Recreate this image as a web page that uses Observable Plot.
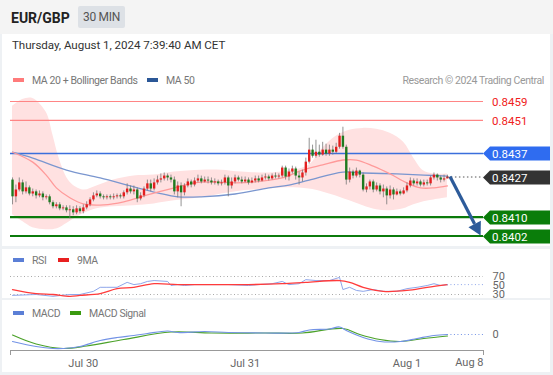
<!DOCTYPE html>
<html><head><meta charset="utf-8">
<script src="https://cdn.jsdelivr.net/npm/d3@7"></script>
<script src="https://cdn.jsdelivr.net/npm/@observablehq/plot@0.6"></script>
<style>
body{margin:0;background:#eef1f4;font-family:Roboto,"Liberation Sans",sans-serif;}
#page{position:relative;width:553px;height:375px;overflow:hidden;background:#eef1f4;}
.abs{position:absolute;white-space:nowrap;}
.panel{position:absolute;left:2px;width:548px;background:#fff;}
.leg{position:absolute;font-size:10.5px;letter-spacing:-0.4px;color:#777;line-height:12px;white-space:nowrap;}
.sw{display:inline-block;width:11px;height:4px;vertical-align:middle;margin-right:8px;position:relative;top:-1px;}
.plot{position:absolute;left:0;}
</style></head><body><div id="page">
<div class="abs" style="left:0;top:0;width:553px;height:34px;background:#f4f4f4;"></div>
<div class="abs" style="left:11px;top:10px;font-size:14px;font-weight:bold;color:#222;line-height:16px;">EUR/GBP</div>
<div class="abs" style="left:78px;top:6px;width:47px;height:22px;background:#dde1e6;border-radius:2px;font-size:12px;letter-spacing:-0.3px;color:#555;line-height:22px;text-align:center;">30 MIN</div>
<div class="panel" style="top:34px;height:212px;"></div>
<div class="panel" style="top:249px;height:49px;"></div>
<div class="panel" style="top:300px;height:72px;"></div>
<div class="abs" style="left:12px;top:38px;font-size:11.6px;letter-spacing:-0.05px;color:#333;line-height:14px;">Thursday, August 1, 2024 7:39:40 AM CET</div>
<div class="leg" style="left:13px;top:75px;"><span class="sw" style="background:#ff7b7b"></span>MA 20 + Bollinger Bands</div>
<div class="leg" style="left:147px;top:75px;"><span class="sw" style="background:#2b5797"></span>MA 50</div>
<div class="leg" style="right:9px;top:75px;color:#999;">Research © 2024 Trading Central</div>
<div class="leg" style="left:13px;top:255px;"><span class="sw" style="background:#5b7fd6"></span>RSI</div>
<div class="leg" style="left:58px;top:255px;"><span class="sw" style="background:#e82020"></span>9MA</div>
<div class="leg" style="left:13px;top:308px;"><span class="sw" style="background:#5b7fd6"></span>MACD</div>
<div class="leg" style="left:70px;top:308px;"><span class="sw" style="background:#3a9a10"></span>MACD Signal</div>
<div id="main" class="plot" style="top:34px"></div>
<div id="rsi" class="plot" style="top:249px"></div>
<div id="macd" class="plot" style="top:300px"></div>
</div>
<script>
// ---- price candles (30 min bars, index 0 = first visible bar) ----
const open0 = 0.84257;
const closes = [0.84186,0.84215,0.84245,0.84207,0.84224,0.84198,0.84207,0.84190,0.84198,0.84182,
 0.84186,0.84161,0.84144,0.84152,0.84135,0.84139,0.84127,0.84131,0.84118,0.84135,
 0.84123,0.84139,0.84152,0.84173,0.84190,0.84198,0.84186,0.84182,0.84186,0.84182,
 0.84186,0.84190,0.84186,0.84203,0.84219,0.84207,0.84215,0.84177,0.84190,0.84219,
 0.84241,0.84219,0.84245,0.84257,0.84262,0.84274,0.84266,0.84257,0.84207,0.84232,
 0.84203,0.84232,0.84249,0.84236,0.84253,0.84262,0.84249,0.84257,0.84253,0.84245,
 0.84249,0.84241,0.84245,0.84266,0.84232,0.84249,0.84266,0.84257,0.84249,0.84257,
 0.84245,0.84253,0.84262,0.84253,0.84266,0.84270,0.84262,0.84274,0.84270,0.84274,
 0.84308,0.84270,0.84291,0.84304,0.84274,0.84266,0.84287,0.84333,0.84384,0.84358,
 0.84375,0.84363,0.84384,0.84367,0.84384,0.84375,0.84396,0.84443,0.84396,0.84257,
 0.84291,0.84274,0.84295,0.84278,0.84215,0.84228,0.84249,0.84215,0.84232,0.84207,
 0.84219,0.84190,0.84215,0.84194,0.84207,0.84198,0.84211,0.84232,0.84253,0.84241,
 0.84249,0.84236,0.84245,0.84241,0.84266,0.84278,0.84266,0.84257,0.84262,0.84270];
const highs = [0.84266,0.84236,0.84266,0.84257,0.84249,0.84232,0.84219,0.84215,0.84211,0.84207,
 0.84194,0.84194,0.84169,0.84161,0.84161,0.84148,0.84148,0.84148,0.84144,0.84148,
 0.84144,0.84152,0.84165,0.84182,0.84203,0.84211,0.84207,0.84194,0.84194,0.84194,
 0.84198,0.84198,0.84198,0.84211,0.84241,0.84232,0.84232,0.84224,0.84203,0.84228,
 0.84257,0.84257,0.84262,0.84274,0.84283,0.84287,0.84283,0.84278,0.84270,0.84249,
 0.84245,0.84241,0.84262,0.84257,0.84266,0.84278,0.84274,0.84270,0.84270,0.84266,
 0.84262,0.84257,0.84257,0.84278,0.84274,0.84266,0.84278,0.84274,0.84270,0.84270,
 0.84266,0.84266,0.84274,0.84274,0.84278,0.84283,0.84278,0.84283,0.84287,0.84283,
 0.84316,0.84316,0.84304,0.84316,0.84312,0.84291,0.84299,0.84350,0.84434,0.84405,
 0.84426,0.84405,0.84417,0.84409,0.84405,0.84401,0.84413,0.84455,0.84481,0.84405,
 0.84308,0.84299,0.84308,0.84299,0.84287,0.84241,0.84257,0.84257,0.84245,0.84241,
 0.84236,0.84228,0.84232,0.84224,0.84219,0.84215,0.84224,0.84245,0.84266,0.84262,
 0.84262,0.84257,0.84257,0.84257,0.84274,0.84287,0.84283,0.84274,0.84278,0.84278];
const lows = [0.84152,0.84161,0.84207,0.84194,0.84198,0.84190,0.84186,0.84177,0.84182,0.84169,
 0.84173,0.84152,0.84135,0.84135,0.84127,0.84127,0.84118,0.84093,0.84106,0.84110,
 0.84114,0.84114,0.84131,0.84144,0.84165,0.84182,0.84177,0.84173,0.84173,0.84173,
 0.84173,0.84177,0.84177,0.84177,0.84194,0.84198,0.84194,0.84161,0.84169,0.84182,
 0.84211,0.84207,0.84211,0.84236,0.84245,0.84253,0.84253,0.84245,0.84194,0.84182,
 0.84144,0.84190,0.84224,0.84224,0.84228,0.84245,0.84241,0.84245,0.84241,0.84236,
 0.84236,0.84232,0.84232,0.84236,0.84186,0.84219,0.84241,0.84249,0.84241,0.84245,
 0.84236,0.84241,0.84245,0.84245,0.84249,0.84257,0.84253,0.84257,0.84262,0.84262,
 0.84266,0.84257,0.84253,0.84283,0.84257,0.84236,0.84249,0.84274,0.84325,0.84350,
 0.84350,0.84354,0.84358,0.84358,0.84358,0.84363,0.84367,0.84388,0.84388,0.84236,
 0.84245,0.84262,0.84266,0.84266,0.84207,0.84203,0.84215,0.84203,0.84207,0.84194,
 0.84182,0.84152,0.84177,0.84173,0.84190,0.84190,0.84194,0.84203,0.84224,0.84232,
 0.84232,0.84228,0.84228,0.84232,0.84232,0.84257,0.84253,0.84245,0.84249,0.84262];

// ---- moving averages & Bollinger bands (sampled bar index -> price) ----
const ma20Idx = [0,6,10,13,17,21,27,33,40,48,54,60,66,72,80,86,92,98,102,107,112,117,121,125,129];
const ma20Val = [0.84375,0.84333,0.84278,0.84224,0.84182,0.84156,0.84152,0.84165,0.84194,0.84224,0.84245,0.84249,0.84245,0.84249,0.84266,0.84299,0.84321,0.84342,0.84342,0.84316,0.84283,0.84245,0.84224,0.84224,0.84232];
const ma50Idx = [0,6,16,26,36,43,49,56,66,76,82,88,98,104,114,122,129];
const ma50Val = [0.84375,0.84350,0.84299,0.84266,0.84228,0.84203,0.84186,0.84186,0.84198,0.84224,0.84236,0.84257,0.84291,0.84287,0.84283,0.84278,0.84274];
const bandIdx = [0,3,6,10,12,14,17,21,25,30,36,42,48,56,62,68,76,82,88,92,96,100,104,108,112,116,119,122,125,129];
const bandUpper = [0.84569,0.84598,0.84603,0.84544,0.84447,0.84342,0.84249,0.84215,0.84232,0.84257,0.84274,0.84278,0.84291,0.84299,0.84299,0.84291,0.84287,0.84295,0.84321,0.84392,0.84443,0.84468,0.84476,0.84472,0.84455,0.84417,0.84350,0.84295,0.84283,0.84283];
const bandLower = [0.84110,0.84081,0.84055,0.84047,0.84047,0.84055,0.84081,0.84114,0.84135,0.84144,0.84148,0.84156,0.84169,0.84182,0.84198,0.84211,0.84219,0.84224,0.84219,0.84207,0.84190,0.84169,0.84148,0.84131,0.84127,0.84135,0.84152,0.84165,0.84173,0.84182];

// ---- key levels ----
const levelPrices = [0.8459, 0.8451, 0.8437, 0.8427, 0.8410, 0.8402];
const levelKinds  = ["resistance","resistance","pivot","last","support","support"];
const forecastFrom = {idx: 129.9, price: 0.8427};
const forecastTo   = {idx: 139.0, price: 0.8402};

// ---- RSI ----
const rsiIdx = [0,7,12,17,20,24,26,28,31,34,36,38,40,42,46,47,49,51,54,59,64,70,73,77,80,82,85,87,90,94,97,98,100,102,104,107,110,114,117,120,123,125,127,129];
const rsiVal = [28,30,26,30,30,37,46,46,46,57,52,54,59,61,59,50,52,50,52,52,52,50,52,54,59,52,54,63,61,61,68,41,46,39,37,41,37,37,43,46,50,54,50,52];
const rsiMaIdx = [0,7,12,17,20,26,31,36,42,49,59,70,80,87,97,100,104,110,117,123,129];
const rsiMaVal = [41,32,30,26,28,32,43,46,54,52,52,52,54,57,61,57,46,37,39,46,52];
const rsiTicks = [70,50,30];

// ---- MACD ----
const macdIdx = [0,7,12,15,20,26,31,36,40,46,49,57,64,75,85,88,94,97,99,104,109,115,120,125,129];
const macdVal = [-0.00014,-0.00024,-0.00028,-0.00028,-0.00024,-0.00012,-0.00006,-0.00002,0.00002,0.00007,0.00004,0.00006,0.00004,0.00003,0.00004,0.00009,0.00011,0.00015,0.00008,-0.00006,-0.00014,-0.00014,-0.00008,-0.00002,0.00000];
const sigIdx = [0,7,15,22,33,47,59,75,86,98,103,109,115,122,129];
const sigVal = [-0.00001,-0.00019,-0.00028,-0.00023,-0.00010,0.00005,0.00003,0.00003,0.00003,0.00012,0.00000,-0.00010,-0.00014,-0.00008,-0.00003];
const macdTicks = [0];

// ---- time axis ----
const dayTickIdx = [21, 69, 117];
const dayLabels = ["Jul 30", "Jul 31", "Aug 1"];
const endLabel = "Aug 8";
const X_START = -0.6, X_END = 139.7;

// ---------------------------------------------------------------
const candles = closes.map((c, i) => ({i, o: i ? closes[i-1] : open0, h: highs[i], l: lows[i], c}));
const zip = (xs, ys) => xs.map((x, k) => ({i: x, v: ys[k]}));
const band = bandIdx.map((x, k) => ({i: x, lo: bandLower[k], hi: bandUpper[k]}));
const levels = levelPrices.map((p, k) => ({p, kind: levelKinds[k]}));
const lastIdx = candles.length - 1;
const ns = "http://www.w3.org/2000/svg";
const styleBase = {background: "transparent", fontFamily: "Roboto, sans-serif", fontSize: "11px", overflow: "visible", color: "#666"};
const xOpt = {domain: [X_START, X_END], axis: null};
const lvlStroke = {resistance: "#ff8585", pivot: "#3b6fdc", support: "#0b7a0b"};
const lvlWidth = {resistance: 1.2, pivot: 1.5, support: 2.2};
const boxFill = {pivot: "#2f6cf0", last: "#333333", support: "#0a7d0a"};

function priceLabels(index, scales, values, dims) {
  const g = document.createElementNS(ns, "g");
  g.setAttribute("text-anchor", "start");
  const x0 = dims.width - dims.marginRight;
  levels.forEach(d => {
    const y = Math.round(scales.y(d.p)) + 0.5;
    const fill = boxFill[d.kind];
    if (fill) {
      const path = document.createElementNS(ns, "path");
      path.setAttribute("d", `M${x0},${y} L${x0+7},${y-7} H${x0+67} V${y+7} H${x0+7} Z`);
      path.setAttribute("fill", fill);
      g.appendChild(path);
    }
    const t = document.createElementNS(ns, "text");
    t.setAttribute("x", x0 + 9);
    t.setAttribute("y", y);
    t.setAttribute("dy", "0.36em");
    t.setAttribute("text-anchor", "start");
    t.setAttribute("fill", fill ? "#fff" : "#f02020");
    t.setAttribute("font-size", "11.5px");
    t.textContent = d.p.toFixed(4);
    g.appendChild(t);
  });
  return g;
}

function forecastArrow(index, scales) {
  const g = document.createElementNS(ns, "g");
  const x1 = scales.x(forecastFrom.idx), y1 = scales.y(forecastFrom.price);
  const x2 = scales.x(forecastTo.idx), y2 = scales.y(forecastTo.price);
  const a = Math.atan2(y2 - y1, x2 - x1), L = 13, W = 7;
  const bx = x2 - L * Math.cos(a), by = y2 - L * Math.sin(a);
  const line = document.createElementNS(ns, "line");
  line.setAttribute("x1", x1); line.setAttribute("y1", y1);
  line.setAttribute("x2", bx); line.setAttribute("y2", by);
  line.setAttribute("stroke", "#2d5b9a"); line.setAttribute("stroke-width", 3.2);
  g.appendChild(line);
  const head = document.createElementNS(ns, "path");
  const px = -Math.sin(a) * W, py = Math.cos(a) * W;
  head.setAttribute("d", `M${x2},${y2} L${bx+px},${by+py} L${bx-px},${by-py} Z`);
  head.setAttribute("fill", "#2d5b9a");
  g.appendChild(head);
  return g;
}

const main = Plot.plot({
  width: 553, height: 212, marginLeft: 10, marginRight: 70, marginTop: 0, marginBottom: 0,
  x: xOpt,
  y: {domain: [0.8402, 0.8459], range: [201.5, 67], axis: null},
  style: styleBase,
  marks: [
    Plot.areaY(band, {x: "i", y1: "lo", y2: "hi", curve: "catmull-rom", fill: "#ffe1e1"}),
    Plot.ruleY(levels.filter(d => d.kind !== "last"), {y: "p", stroke: d => lvlStroke[d.kind], strokeWidth: d => lvlWidth[d.kind]}),
    Plot.line(zip(ma50Idx, ma50Val), {x: "i", y: "v", curve: "catmull-rom", stroke: "#7a96cf", strokeWidth: 1.3}),
    Plot.line(zip(ma20Idx, ma20Val), {x: "i", y: "v", curve: "catmull-rom", stroke: "#ff9a9a", strokeWidth: 1.3}),
    Plot.ruleX(candles, {x: "i", y1: "l", y2: "h", stroke: "#777", strokeWidth: 0.8}),
    Plot.ruleX(candles, {x: "i", y1: "o", y2: "c", stroke: d => d.c >= d.o ? "#e31e1e" : "#1f7a1f", strokeWidth: 2.4}),
    Plot.ruleY(levels.filter(d => d.kind === "last"), {y: "p", x1: lastIdx, x2: X_END, stroke: "#555", strokeDasharray: "1.5,2.5", strokeWidth: 1}),
    forecastArrow,
    priceLabels
  ]
});
document.getElementById("main").appendChild(main);

const rsi = Plot.plot({
  width: 553, height: 49, marginLeft: 10, marginRight: 70, marginTop: 0, marginBottom: 0,
  x: xOpt,
  y: {domain: [30, 70], range: [45, 27]},
  style: styleBase,
  marks: [
    Plot.ruleY([30, 70], {stroke: "#aaa", strokeDasharray: "1,2.5"}),
    Plot.line(zip(rsiIdx, rsiVal), {x: "i", y: "v", stroke: "#8ea6ea", strokeWidth: 1}),
    Plot.line(zip(rsiMaIdx, rsiMaVal), {x: "i", y: "v", curve: "catmull-rom", stroke: "#ff3b3b", strokeWidth: 1.3}),
    Plot.ruleY([rsiVal[rsiVal.length-1]], {x1: rsiIdx[rsiIdx.length-1], x2: X_END, stroke: "#8ea6ea", strokeDasharray: "1,2.5"}),
    Plot.axisY({anchor: "right", ticks: rsiTicks, tickSize: 0, tickPadding: 9, label: null, fontSize: 11})
  ]
});
document.getElementById("rsi").appendChild(rsi);

const macd = Plot.plot({
  width: 553, height: 72, marginLeft: 10, marginRight: 70, marginTop: 0, marginBottom: 22,
  x: {domain: [X_START, X_END]},
  y: {domain: [-0.0003, 0.0002], range: [49, 24]},
  style: styleBase,
  marks: [
    Plot.line(zip(sigIdx, sigVal), {x: "i", y: "v", curve: "catmull-rom", stroke: "#4ca22a", strokeWidth: 1.2}),
    Plot.line(zip(macdIdx, macdVal), {x: "i", y: "v", curve: "catmull-rom", stroke: "#7393e6", strokeWidth: 1.2}),
    Plot.ruleY([macdVal[macdVal.length-1]], {x1: macdIdx[macdIdx.length-1], x2: X_END, stroke: "#7393e6", strokeDasharray: "1,2.5"}),
    Plot.axisY({anchor: "right", ticks: macdTicks, tickFormat: d => String(Math.round(d)), tickSize: 0, tickPadding: 9, label: null, fontSize: 11}),
    Plot.frame({anchor: "bottom", stroke: "#999"}),
    Plot.axisX({ticks: [X_START, X_END], tickSize: 5, tickFormat: () => "", label: null, stroke: "#999"}),
    Plot.axisX({ticks: dayTickIdx, tickFormat: (d) => dayLabels[dayTickIdx.indexOf(d)], tickSize: 0, tickPadding: 9, label: null, fontSize: 11}),
    Plot.text([endLabel], {frameAnchor: "bottom-right", dy: 15, textAnchor: "end", fill: "#666", fontSize: 11})
  ]
});
document.getElementById("macd").appendChild(macd);
</script>
</body></html>
